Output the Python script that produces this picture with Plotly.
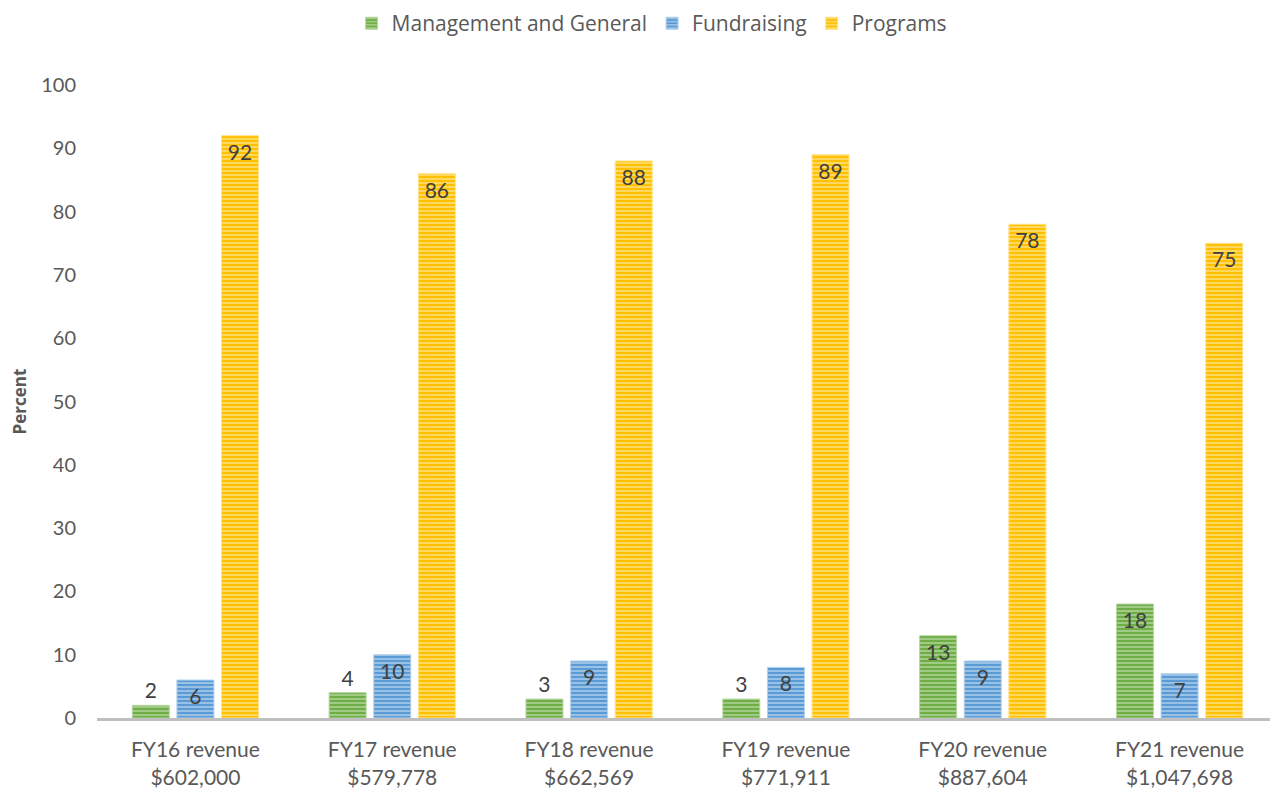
import plotly.graph_objects as go

categories = ["FY16 revenue<br>$602,000", "FY17 revenue<br>$579,778", "FY18 revenue<br>$662,569",
              "FY19 revenue<br>$771,911", "FY20 revenue<br>$887,604", "FY21 revenue<br>$1,047,698"]
management = [2, 4, 3, 3, 13, 18]
fundraising = [6, 10, 9, 8, 9, 7]
programs = [92, 86, 88, 89, 78, 75]

series = [
    ("Management and General", management, "#70AD47", "#B5D8A0"),
    ("Fundraising", fundraising, "#5B9BD5", "#B4D2EE"),
    ("Programs", programs, "#FFC000", "#FFE38A"),
]

lab_font = dict(family="Lato, sans-serif", size=21, color="#404040")

fig = go.Figure()
for name, vals, main, light in series:
    fig.add_trace(go.Bar(
        name=name, x=categories, y=vals,
        text=[str(v) for v in vals],
        textposition=["outside" if v < 5 else "inside" for v in vals],
        insidetextanchor="end",
        textfont=lab_font, outsidetextfont=lab_font, insidetextfont=lab_font,
        cliponaxis=False,
        marker=dict(
            color=main,
            line=dict(color=light, width=1),
            pattern=dict(shape="-", fillmode="replace", bgcolor=main, fgcolor=light,
                         size=4, solidity=0.35),
        ),
    ))

fig.update_layout(
    width=1270, height=789,
    barmode="group", bargap=0.32, bargroupgap=0.17,
    plot_bgcolor="white", paper_bgcolor="white",
    margin=dict(l=89, r=0, t=77, b=79, autoexpand=False),
    font=dict(family="Lato, sans-serif", size=20, color="#595959"),
    legend=dict(orientation="h", x=0.47, xanchor="center", y=1.097, yanchor="middle",
                yref="paper", font=dict(family="Open Sans, sans-serif", size=21, color="#595959"),
                itemwidth=30),
)
fig.update_xaxes(showline=True, linecolor="#BFBFBF", linewidth=3, showgrid=False,
                 ticks="", ticklabelstandoff=11,
                 tickfont=dict(family="Lato, sans-serif", size=21, color="#595959"))
fig.update_yaxes(range=[0, 100], dtick=10, showgrid=False, zeroline=False, showline=False,
                 ticks="", tickfont=dict(size=20, color="#595959"), ticklabelstandoff=20,
                 title=dict(text="<b>Percent</b>", font=dict(family="Open Sans, sans-serif", size=17, color="#595959"),
                            standoff=12))

fig.write_html("out.html")
